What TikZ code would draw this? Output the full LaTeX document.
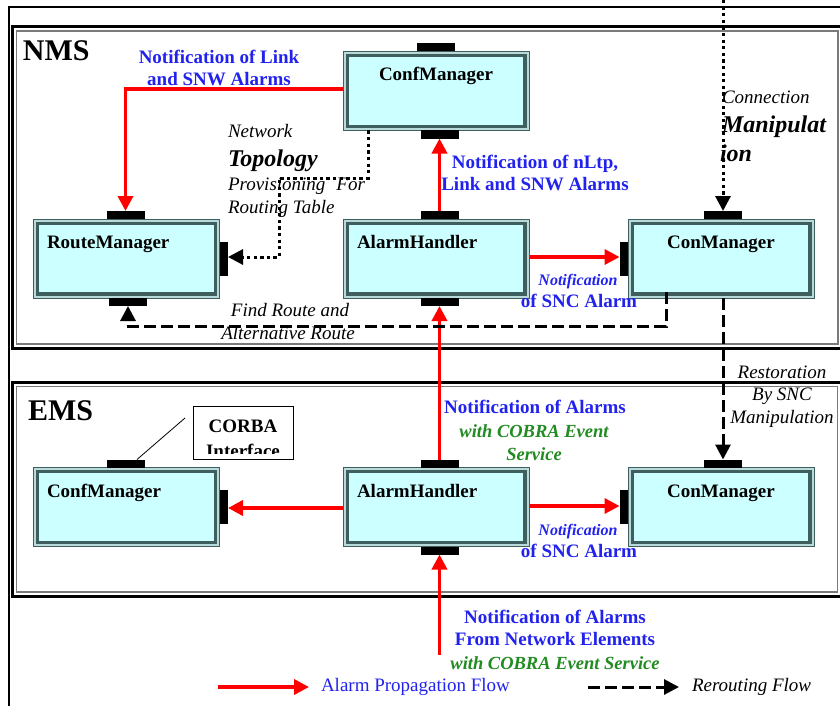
\documentclass[tikz,border=0pt]{standalone}
\usepackage{fontspec}
\setmainfont{Liberation Serif}
\usetikzlibrary{arrows.meta,calc}

\definecolor{boxfill}{HTML}{CCFFFF}
\definecolor{boxband}{HTML}{B8DADA}
\definecolor{boxedge}{HTML}{3F5F5F}
\definecolor{lblue}{HTML}{2222EE}
\definecolor{lgreen}{HTML}{228B22}
\definecolor{framegray}{HTML}{7A7A7A}

\tikzset{
  comp/.style={draw=boxedge, line width=1pt, fill=boxband, outer sep=0pt,
    minimum width=186pt, minimum height=79pt, inner sep=0pt,
    path picture={\draw[line width=3.4pt, fill=boxfill]
      ([shift={(4.2pt,-4.2pt)}]path picture bounding box.north west) rectangle
      ([shift={(-4.2pt,4.2pt)}]path picture bounding box.south east);}},
  porth/.style={fill=black, minimum width=38pt, minimum height=8pt, inner sep=0pt, outer sep=0pt},
  portv/.style={fill=black, minimum width=8.5pt, minimum height=34pt, inner sep=0pt, outer sep=0pt},
  alarm/.style={draw=red, line width=3.5pt, -{Triangle[length=15pt,width=15pt]}},
  reroute/.style={draw=black, line width=3pt, dash pattern=on 12pt off 5pt, -{Triangle[length=15pt,width=15pt]}},
  topo/.style={draw=black, line width=3pt, dash pattern=on 3.3pt off 3.3pt, -{Triangle[length=15pt,width=15pt]}},
  txt/.style={inner sep=0pt, outer sep=0pt},
  title/.style={txt, font=\fontsize{30}{34}\selectfont\bfseries},
  cname/.style={txt, font=\fontsize{19}{22}\selectfont\bfseries},
  bluebold/.style={txt, text=lblue, font=\fontsize{19}{22}\selectfont\bfseries},
  bluenote/.style={txt, text=lblue, font=\fontsize{16}{19}\selectfont\bfseries\itshape},
  greenbold/.style={txt, text=lgreen, font=\fontsize{18.5}{22}\selectfont\bfseries\itshape},
  note/.style={txt, font=\fontsize{19}{22}\selectfont\itshape},
  bignote/.style={txt, font=\fontsize{24}{28}\selectfont\bfseries\itshape},
}

\begin{document}
\begin{tikzpicture}[x=1pt,y=-1pt]
\clip (0,0) rectangle (840,706);
\fill[white] (0,0) rectangle (840,706);

% outer frame
\draw[line width=1.6pt] (9,720) -- (9,7.3) -- (860,7.3);
% NMS frame
\draw[line width=3pt] (12.5,26.5) rectangle (860,348.5);
\draw[framegray, line width=1.2pt] (16.5,31) rectangle (838,344);
% EMS frame
\draw[line width=3pt] (12.5,382.7) rectangle (860,596.5);
\draw[framegray, line width=1.2pt] (16.5,386.7) rectangle (837.5,592);

\node[title, anchor=base west] (nms) at (23,61) {NMS};
\node[title, anchor=base west] (ems) at (28,420) {EMS};

% NMS components
\node[comp] (nconf) at (436,91) {};
\node[porth, anchor=south] (nconf-pt) at (nconf.north) {};
\node[porth, anchor=north] (nconf-pb) at ([xshift=3.5pt]nconf.south) {};
\node[cname, anchor=base] (nconf-t) at (436,81) {ConfManager};

\node[comp] (nroute) at (126.5,258.5) {};
\node[porth, anchor=south] (nroute-pt) at ([xshift=-1pt]nroute.north) {};
\node[porth, anchor=north] (nroute-pb) at ([xshift=1.5pt]nroute.south) {};
\node[portv, anchor=west] (nroute-pr) at (nroute.east) {};
\node[cname, anchor=base west] (nroute-t) at (47,248) {RouteManager};

\node[comp] (nalarm) at (436,258.5) {};
\node[porth, anchor=south] (nalarm-pt) at ([xshift=3.5pt]nalarm.north) {};
\node[porth, anchor=north] (nalarm-pb) at ([xshift=3.5pt]nalarm.south) {};
\node[cname, anchor=base west] (nalarm-t) at (357,248) {AlarmHandler};

\node[comp] (ncon) at (721,258.5) {};
\node[porth, anchor=south] (ncon-pt) at ([xshift=2pt]ncon.north) {};
\node[portv, anchor=east] (ncon-pl) at (ncon.west) {};
\node[cname, anchor=base] (ncon-t) at (721,248) {ConManager};

% EMS components
\node[comp] (econf) at (126.5,507) {};
\node[porth, anchor=south] (econf-pt) at ([xshift=-1pt]econf.north) {};
\node[portv, anchor=west] (econf-pr) at (econf.east) {};
\node[cname, anchor=base west] (econf-t) at (47,497) {ConfManager};

\node[comp] (ealarm) at (436,507) {};
\node[porth, anchor=south] (ealarm-pt) at ([xshift=3.5pt]ealarm.north) {};
\node[porth, anchor=north] (ealarm-pb) at ([xshift=3.5pt]ealarm.south) {};
\node[cname, anchor=base west] (ealarm-t) at (357,497) {AlarmHandler};

\node[comp] (econ) at (721,507) {};
\node[porth, anchor=south] (econ-pt) at ([xshift=2pt]econ.north) {};
\node[portv, anchor=east] (econ-pl) at (econ.west) {};
\node[cname, anchor=base] (econ-t) at (721,497) {ConManager};

% CORBA interface callout
\node[draw, line width=0.8pt, minimum width=100pt, minimum height=53pt, inner sep=0pt] (corba) at (243,432.5) {};
\begin{scope}
  \clip (194,407) rectangle (292,453);
  \node[cname, anchor=base] (corba-t1) at (243,432) {CORBA};
  \node[cname, anchor=base] (corba-t2) at (243,457) {Interface};
\end{scope}
\coordinate (corba-lead) at (185,418);
\draw[line width=0.8pt] (corba-lead) -- ([xshift=11.5pt]econf-pt.north);

% alarm propagation
\draw[alarm] ([yshift=2pt]nconf.west) -| (nroute-pt.north);
\draw[alarm] (nalarm-pt.north) -- (nconf-pb.south);
\draw[alarm] ([yshift=1.5pt]nalarm.east) -- ([yshift=1.5pt]ncon-pl.west);
\draw[alarm] (ealarm-pt.north) -- (nalarm-pb.south);
\draw[alarm] ([yshift=-1pt]ealarm.west) -- ([yshift=-1pt]econf-pr.east);
\draw[alarm] ([yshift=1pt]ealarm.east) -- ([yshift=1pt]econ-pl.west);
\coordinate (ne-src) at (439.5,655);
\draw[alarm] (ne-src) -- (ealarm-pb.south);

% topology provisioning and connection manipulation
\coordinate (cm-src) at (723,0);
\draw[topo] (cm-src) -- (ncon-pt.north);
\draw[topo] ([xshift=-68pt]nconf.south) |- (279,178) |- ([yshift=1.5pt]nroute-pr.east);

% rerouting
\draw[reroute] ([xshift=-55pt,yshift=6pt]ncon.south) |- (nroute-pb.south |- 0,326) -- (nroute-pb.south);
\draw[reroute] ([xshift=2pt]ncon.south) -- (econ-pt.north);

% labels
\node[bluebold, anchor=base] (lb1a) at (219,64) {Notification of Link};
\node[bluebold, anchor=base] (lb1b) at (219,86) {and SNW Alarms};
\node[bluebold, anchor=base] (lb2a) at (535,168) {Notification of nLtp,};
\node[bluebold, anchor=base] (lb2b) at (535,190) {Link and SNW Alarms};
\node[bluenote, anchor=base] (lb3a) at (578,285) {Notification};
\node[bluebold, anchor=base] (lb3b) at (579,307) {of SNC Alarm};
\node[bluenote, anchor=base] (lb4a) at (578,535) {Notification};
\node[bluebold, anchor=base] (lb4b) at (579,557) {of SNC Alarm};
\node[bluebold, anchor=base] (lb5a) at (535,413) {Notification of Alarms};
\node[greenbold, anchor=base] (lb5b) at (534,437) {with COBRA Event};
\node[greenbold, anchor=base] (lb5c) at (534,460) {Service};
\node[bluebold, anchor=base] (lb6a) at (555,623) {Notification of Alarms};
\node[bluebold, anchor=base] (lb6b) at (555,645) {From Network Elements};
\node[greenbold, anchor=base] (lb6c) at (555,669) {with COBRA Event Service};

\node[note, anchor=base west] (tp1) at (228,138) {Network};
\node[bignote, anchor=base west] (tp2) at (228,166) {Topology};
\node[note, anchor=base west] (tp3) at (228,190) {Provisioning\hspace{11pt}For};
\node[note, anchor=base west] (tp4) at (228,213) {Routing Table};

\node[note, anchor=base west] (cm1) at (722,103) {Connection};
\node[bignote, anchor=base west] (cm2) at (722,132) {Manipulat};
\node[bignote, anchor=base west] (cm3) at (720,161) {ion};

\node[note, anchor=base] (fr1) at (290,316) {Find Route and};
\node[note, anchor=base] (fr2) at (288,339) {Alternative Route};

\node[note, anchor=base] (rs1) at (782,378) {Restoration};
\node[note, anchor=base] (rs2) at (782,400) {By SNC};
\node[note, anchor=base] (rs3) at (782,423) {Manipulation};

% legend
\coordinate (lg-a1) at (218,687);
\coordinate (lg-a2) at (309,687);
\draw[alarm] (lg-a1) -- (lg-a2);
\node[txt, text=lblue, font=\fontsize{19}{22}\selectfont, anchor=base west] (lg-t1) at (321,691) {Alarm Propagation Flow};
\coordinate (lg-b1) at (588,687);
\coordinate (lg-b2) at (679,687);
\draw[reroute] (lg-b1) -- (lg-b2);
\node[note, anchor=base west] (lg-t2) at (692,691) {Rerouting Flow};
\end{tikzpicture}
\end{document}
